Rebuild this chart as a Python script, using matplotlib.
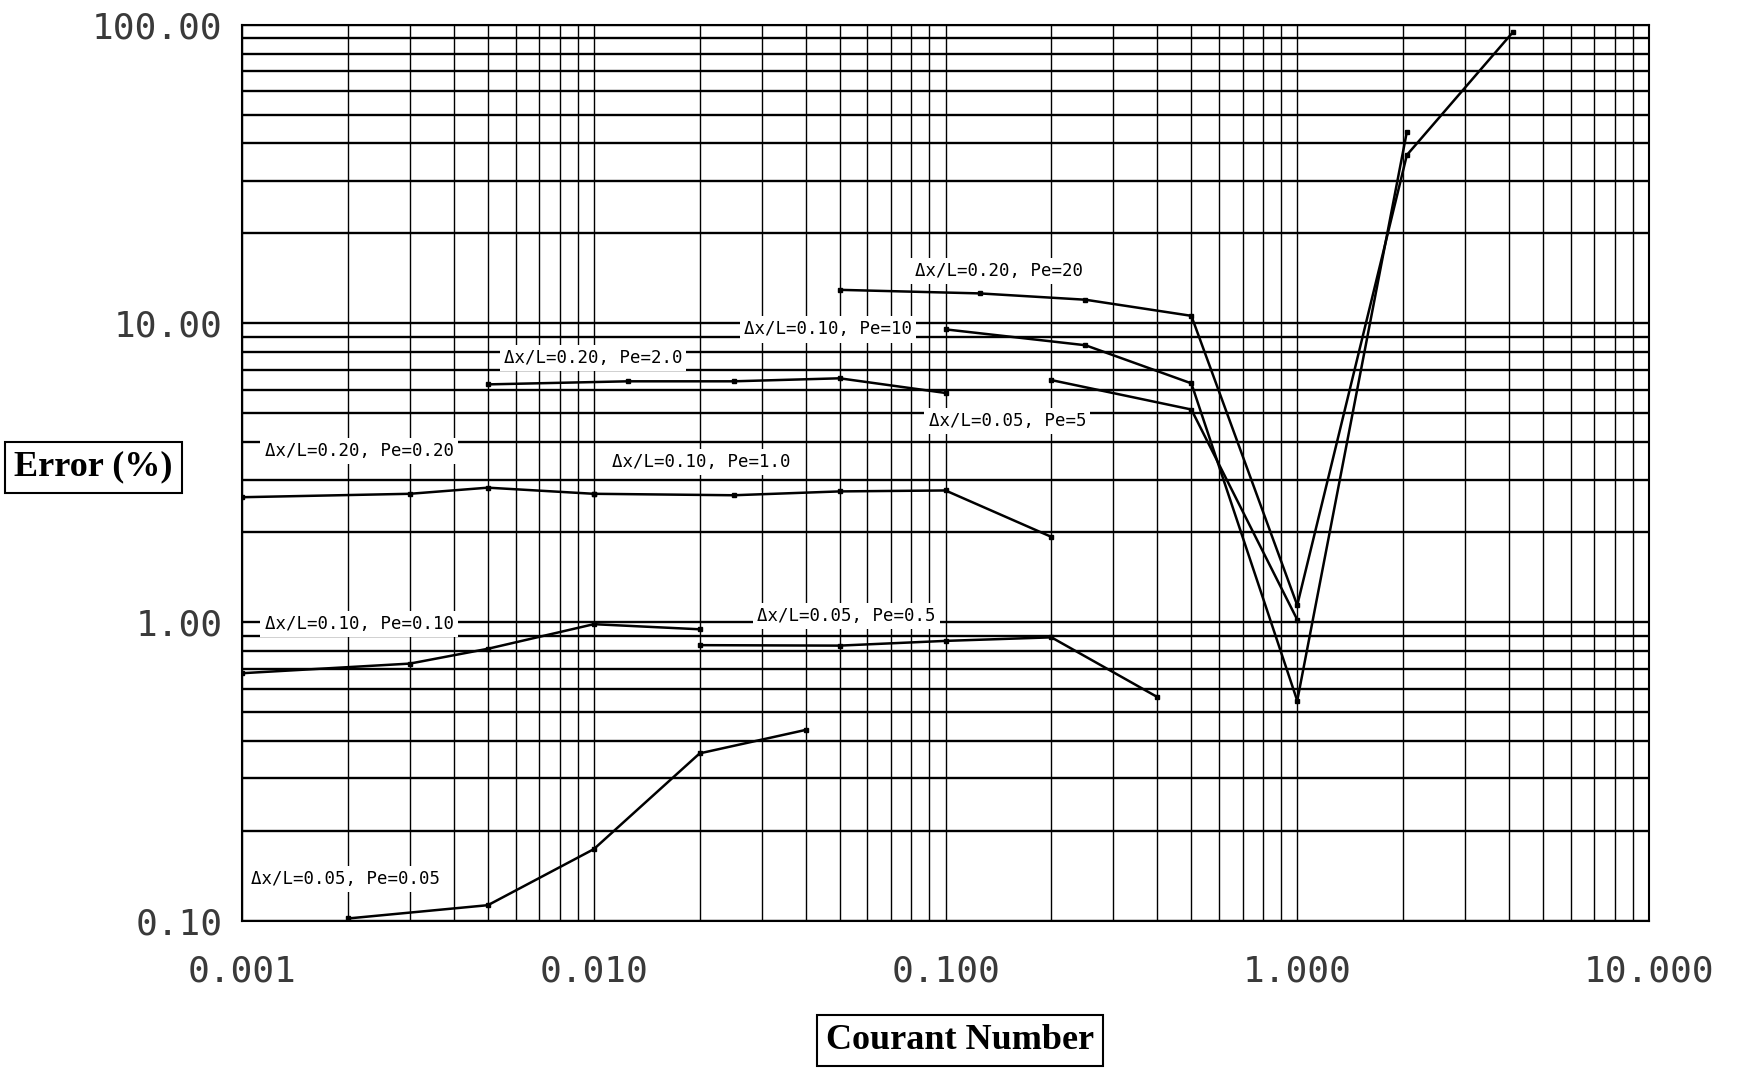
import numpy as np
import matplotlib
matplotlib.use("Agg")
import matplotlib.pyplot as plt
from matplotlib.ticker import LogLocator, NullFormatter

# Courant number / error (%)
c_005_005 = [0.002, 0.005, 0.01, 0.02, 0.04]
e_005_005 = [0.102, 0.113, 0.174, 0.364, 0.436]

c_010_010 = [0.001, 0.003, 0.005, 0.01, 0.02]
e_010_010 = [0.675, 0.727, 0.815, 0.985, 0.947]

c_020_020 = [0.001, 0.003, 0.005, 0.01]
e_020_020 = [2.62, 2.69, 2.82, 2.69]

c_005_05 = [0.02, 0.05, 0.1, 0.2, 0.4]
e_005_05 = [0.838, 0.835, 0.866, 0.89, 0.562]

c_010_10 = [0.01, 0.025, 0.05, 0.1, 0.2]
e_010_10 = [2.69, 2.66, 2.74, 2.76, 1.93]

c_020_2 = [0.005, 0.0125, 0.025, 0.05, 0.1]
e_020_2 = [6.25, 6.4, 6.4, 6.55, 5.85]

c_005_5 = [0.2, 0.5, 1.0]
e_005_5 = [6.46, 5.15, 1.02]

c_010_10b = [0.1, 0.25, 0.5, 1.0, 2.05]
e_010_10b = [9.55, 8.45, 6.3, 0.546, 43.8]

c_020_20 = [0.05, 0.125, 0.25, 0.5, 1.0, 2.05, 4.1]
e_020_20 = [12.95, 12.6, 12.0, 10.6, 1.14, 36.6, 94.2]

series = [
    (c_005_005, e_005_005),
    (c_010_010, e_010_010),
    (c_020_020, e_020_020),
    (c_005_05, e_005_05),
    (c_010_10, e_010_10),
    (c_020_2, e_020_2),
    (c_005_5, e_005_5),
    (c_010_10b, e_010_10b),
    (c_020_20, e_020_20),
]

labels = [
    "Δx/L=0.05, Pe=0.05",
    "Δx/L=0.10, Pe=0.10",
    "Δx/L=0.20, Pe=0.20",
    "Δx/L=0.05, Pe=0.5",
    "Δx/L=0.10, Pe=1.0",
    "Δx/L=0.20, Pe=2.0",
    "Δx/L=0.05, Pe=5",
    "Δx/L=0.10, Pe=10",
    "Δx/L=0.20, Pe=20",
]
label_pos = [
    (0.006, 0.047),
    (0.016, 0.331),
    (0.016, 0.524),
    (0.366, 0.340),
    (0.263, 0.512),
    (0.186, 0.628),
    (0.488, 0.558),
    (0.357, 0.660),
    (0.478, 0.725),
]

xticks = [0.001, 0.01, 0.1, 1, 10]
xticklabels = ["0.001", "0.010", "0.100", "1.000", "10.000"]
yticks = [0.1, 1, 10, 100]
yticklabels = ["0.10", "1.00", "10.00", "100.00"]

fig = plt.figure(figsize=(17.49, 10.68), dpi=100)
ax = fig.add_axes([0.1384, 0.1376, 0.8044, 0.8394])
ax.set_xscale("log")
ax.set_yscale("log")
ax.set_xlim(0.001, 10)
ax.set_ylim(0.1, 100)

ax.xaxis.set_minor_locator(LogLocator(base=10, subs=np.arange(2, 10)))
ax.yaxis.set_minor_locator(LogLocator(base=10, subs=np.arange(2, 10)))
ax.xaxis.set_minor_formatter(NullFormatter())
ax.yaxis.set_minor_formatter(NullFormatter())
ax.grid(True, axis="x", which="both", color="black", lw=1.0, zorder=1)
ax.grid(True, axis="y", which="both", color="black", lw=1.7, zorder=1)
ax.set_axisbelow(True)

ax.set_xticks(xticks)
ax.set_xticklabels(xticklabels)
ax.set_yticks(yticks)
ax.set_yticklabels(yticklabels)
ax.tick_params(which="both", length=0)
ax.tick_params(axis="x", pad=24)
ax.tick_params(axis="y", pad=14)
for t in ax.get_xticklabels() + ax.get_yticklabels():
    t.set_family("DejaVu Sans Mono")
    t.set_fontsize(26)
    t.set_color("#3a3a3a")
for s in ax.spines.values():
    s.set_linewidth(1.5)

for c, e in series:
    ax.plot(c, e, color="black", lw=1.8, marker="s", ms=3, zorder=4)

for txt, (xf, yf) in zip(labels, label_pos):
    ax.text(xf, yf, txt, transform=ax.transAxes, ha="left", va="center",
            family="DejaVu Sans Mono", fontsize=12.5, zorder=3,
            bbox=dict(fc="white", ec="none", pad=3))

fig.text(0.0535, 0.5627, "Error (%)", ha="center", va="center",
         family="Liberation Serif", fontsize=26, fontweight="bold",
         bbox=dict(boxstyle="square,pad=0.25", fc="white", ec="black", lw=1.5))
fig.text(0.549, 0.026, "Courant Number", ha="center", va="center",
         family="Liberation Serif", fontsize=26, fontweight="bold",
         bbox=dict(boxstyle="square,pad=0.25", fc="white", ec="black", lw=1.5))

fig.savefig("out.png", dpi=100)
